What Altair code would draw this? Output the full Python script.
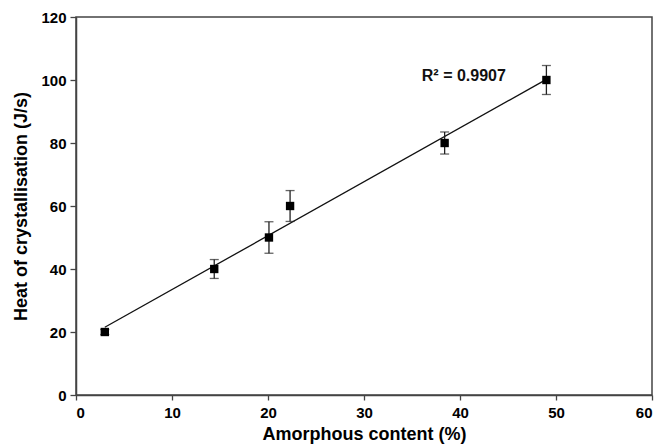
import altair as alt
import pandas as pd

amorphous = [3.0, 14.4, 20.1, 22.3, 38.4, 49.0]
heat = [20.0, 40.0, 50.0, 60.0, 80.0, 100.0]
err = [0.8, 3.0, 5.0, 4.9, 3.5, 4.6]
x_ticks = [0, 10, 20, 30, 40, 50, 60]
y_ticks = [0, 20, 40, 60, 80, 100, 120]
r2_label = ["R² = 0.9907"]
r2_pos = [(40.4, 101.3)]

df = pd.DataFrame({"x": amorphous, "y": heat, "lo": [h - e for h, e in zip(heat, err)],
                   "hi": [h + e for h, e in zip(heat, err)]})
FONT = "Liberation Sans"

xs = alt.Scale(domain=[0, 60], nice=False)
ys = alt.Scale(domain=[0, 120], nice=False)
xaxis = alt.Axis(values=x_ticks, title="Amorphous content (%)", grid=False)
yaxis = alt.Axis(values=y_ticks, title="Heat of crystallisation (J/s)", grid=False)

base = alt.Chart(df)

fit = base.transform_regression("x", "y", method="linear", extent=[3.0, 49.0]).mark_line(
    color="#111", strokeWidth=1.3
).encode(x=alt.X("x:Q", scale=xs, axis=xaxis), y=alt.Y("y:Q", scale=ys, axis=yaxis))

rules = base.mark_rule(color="#222", strokeWidth=1.3).encode(
    x=alt.X("x:Q", scale=xs), y=alt.Y("lo:Q", scale=ys), y2="hi:Q")
cap_lo = base.mark_tick(color="#222", thickness=1.3, size=9, orient="horizontal").encode(
    x=alt.X("x:Q", scale=xs), y=alt.Y("lo:Q", scale=ys))
cap_hi = base.mark_tick(color="#222", thickness=1.3, size=9, orient="horizontal").encode(
    x=alt.X("x:Q", scale=xs), y=alt.Y("hi:Q", scale=ys))
pts = base.mark_square(color="black", size=70, opacity=1).encode(
    x=alt.X("x:Q", scale=xs), y=alt.Y("y:Q", scale=ys))

tdf = pd.DataFrame({"label": r2_label, "tx": [p[0] for p in r2_pos], "ty": [p[1] for p in r2_pos]})
txt = alt.Chart(tdf).mark_text(font=FONT, fontSize=16, fontWeight="bold", color="#111").encode(
    x=alt.X("tx:Q", scale=xs), y=alt.Y("ty:Q", scale=ys), text="label:N")

chart = alt.layer(fit, rules, cap_lo, cap_hi, pts, txt).properties(
    width=576, height=378,
    autosize=alt.AutoSizeParams(type="none"),
    padding={"left": 76, "top": 17, "right": 11, "bottom": 52},
).configure_view(stroke="#444", strokeWidth=1.5).configure_axis(
    domainColor="#444", domainWidth=1.5, tickColor="#444", tickWidth=1.3,
    labelFont=FONT, labelFontSize=15, labelFontWeight="bold", labelColor="#000",
    titleFont=FONT, titleFontSize=18, titleFontWeight="bold", titleColor="#000",
).configure_axisX(titlePadding=5, tickSize=5, labelPadding=5).configure_axisY(
    titlePadding=10, tickSize=6, labelPadding=4)

chart.save("out.html", embed_options={"renderer": "svg", "actions": False})
